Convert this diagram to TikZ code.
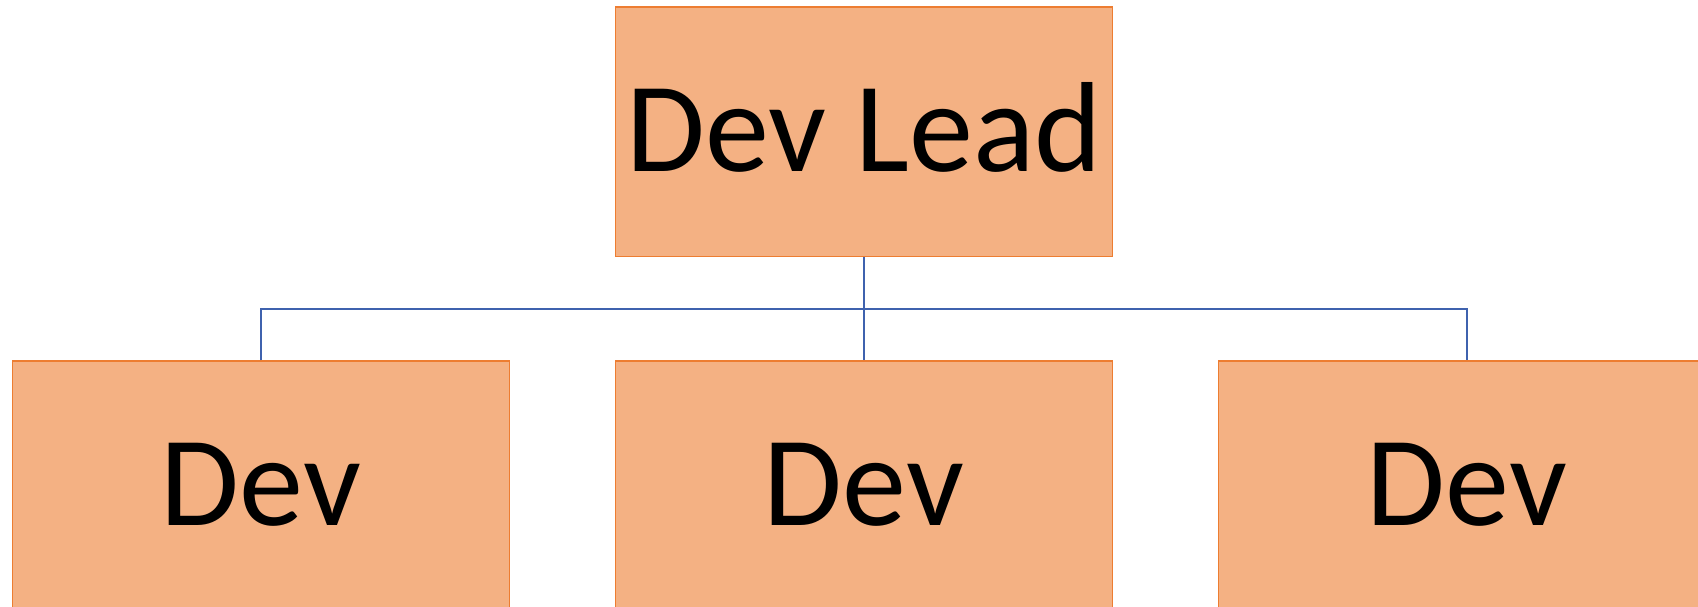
\documentclass[tikz,border=0pt]{standalone}
\usepackage{fontspec}
\setmainfont{Carlito}
\usepackage{tikz}
\definecolor{boxfill}{HTML}{F4B183}
\definecolor{boxline}{HTML}{ED7D31}
\definecolor{linkblue}{HTML}{3F62AE}

\begin{document}
\begin{tikzpicture}[x=0.02cm,y=-0.02cm,
  role/.style={draw=boxline,fill=boxfill,line width=0.6pt,minimum width=9.96cm,minimum height=5cm,
    inner sep=0pt,text depth=0.08cm,font=\fontsize{73pt}{88pt}\selectfont},
  link/.style={draw=linkblue,line width=1.5pt}]
  \useasboundingbox (0,0) rectangle (1698,607);
  % boxes
  \node[role,text depth=0.22cm] (lead) at (864,132) {Dev Lead};
  \node[role] (devA) at (261,486) {Dev};
  \node[role] (devB) at (864,486) {Dev};
  \node[role] (devC) at (1467,486) {Dev};
  % connectors
  \coordinate (bus) at (864,309);
  \draw[link] (lead.south) -- (devB.north);
  \draw[link] (devA.north) |- (bus) -| (devC.north);
\end{tikzpicture}
\end{document}
